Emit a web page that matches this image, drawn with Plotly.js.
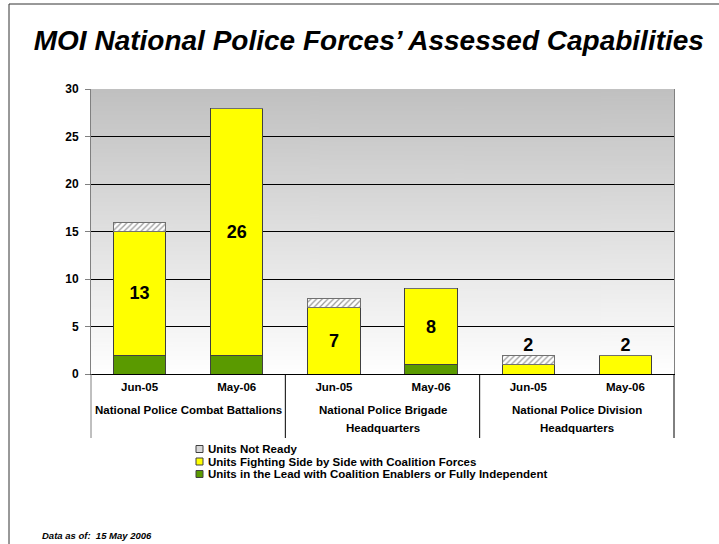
<!DOCTYPE html>
<html>
<head>
<meta charset="utf-8">
<script src="https://cdn.plot.ly/plotly-3.0.1.min.js"></script>
<style>html,body{margin:0;padding:0;background:#fff;}#chart{width:719px;height:544px;}</style>
</head>
<body>
<div id="chart"></div>
<script>
// ---- data ----
const groups = ['National Police Combat Battalions', 'National Police Brigade<br>Headquarters', 'National Police Division<br>Headquarters'];
const periods = ['Jun-05', 'May-06'];
const leadUnits = [2, 2, 0, 1, 0, 0];
const fightingUnits = [13, 26, 7, 8, 1, 2];
const notReadyUnits = [1, 0, 1, 0, 1, 0];
const insideLabels = ['13', '26', '7', '8', '', ''];
const topLabels = ['', '', '', '', '2', '2'];
const seriesNames = ['Units in the Lead with Coalition Enablers or Fully Independent', 'Units Fighting Side by Side with Coalition Forces', 'Units Not Ready'];
const seriesColors = ['#5a9a00', '#ffff00', '#ffffff'];

// ---- build ----
const xKeys = [], xTickText = [];
groups.forEach((g, gi) => periods.forEach(p => { xKeys.push(gi + '|' + p); xTickText.push(p); }));
const totals = leadUnits.map((v, i) => v + fightingUnits[i] + notReadyUnits[i]);

const FONT = 'Arial, "Liberation Sans", sans-serif';
const barLine = {color: '#404040', width: 1};
const W = 0.54;

const traces = [
  {type: 'bar', name: seriesNames[0], x: xKeys, y: leadUnits, width: W,
   marker: {color: seriesColors[0], line: barLine}, hoverinfo: 'none'},
  {type: 'bar', name: seriesNames[1], x: xKeys, y: fightingUnits, width: W,
   marker: {color: seriesColors[1], line: barLine},
   text: insideLabels, textposition: 'inside', insidetextanchor: 'middle', textangle: 0,
   constraintext: 'none',
   textfont: {family: FONT, size: 18, color: '#000', weight: 'bold'}, hoverinfo: 'none'},
  {type: 'bar', name: seriesNames[2], x: xKeys, y: notReadyUnits, width: W,
   marker: {color: seriesColors[2], line: {color: '#707070', width: 1},
            pattern: {shape: '/', fgcolor: '#999999', bgcolor: '#ffffff', size: 4, solidity: 0.3}},
   hoverinfo: 'none'},
  {type: 'scatter', mode: 'text', x: xKeys, y: totals, text: topLabels, textposition: 'top center',
   textfont: {family: FONT, size: 18, color: '#000', weight: 'bold'}, showlegend: false, hoverinfo: 'none'}
];

// plot-area geometry (pixels) for paper-coordinate helpers
const PL = 91, PR = 674, PT = 89, PB = 374;
const px = v => (v - PL) / (PR - PL);
const py = v => (PB - v) / (PB - PT);

// gradient background image for the plot area
const cv = document.createElement('canvas');
cv.width = 4; cv.height = 256;
const cx = cv.getContext('2d');
const gr = cx.createLinearGradient(0, 0, 0, 256);
gr.addColorStop(0, '#c0c0c0');
gr.addColorStop(1, '#ffffff');
cx.fillStyle = gr; cx.fillRect(0, 0, 4, 256);
const bgUrl = cv.toDataURL();

const shapes = [
  {type: 'rect', xref: 'paper', yref: 'paper', x0: px(9), x1: px(760), y0: py(600), y1: py(4),
   line: {color: '#333', width: 1}, fillcolor: 'rgba(0,0,0,0)', layer: 'below'}
];
const annotations = [];

// group dividers and group labels
const nG = groups.length;
for (let i = 0; i <= nG; i++) {
  shapes.push({type: 'line', xref: 'paper', yref: 'paper', x0: i / nG, x1: i / nG, y0: 0, y1: py(438),
               line: {color: i === 0 ? '#808080' : '#000', width: 1}});
}
groups.forEach((g, gi) => {
  g.split('<br>').forEach((line, li) => {
    annotations.push({text: '<b>' + line + '</b>', xref: 'paper', yref: 'paper',
      x: (gi + 0.5) / nG, xanchor: 'center', y: py(410 + li * 18), yanchor: 'middle', showarrow: false,
      font: {family: FONT, size: 11.5, color: '#000'}});
  });
});

// custom compact legend (top to bottom: reversed stacking order)
[2, 1, 0].forEach((si, row) => {
  const cy = 449 + row * 12.5;
  const mk = {type: 'rect', xref: 'paper', yref: 'paper', x0: px(196), x1: px(203), y0: py(cy + 3.5), y1: py(cy - 3.5),
              line: {color: '#404040', width: 1}, fillcolor: seriesColors[si]};
  if (si === 2) mk.fillcolor = '#d8d8d8';
  shapes.push(mk);
  annotations.push({text: '<b>' + seriesNames[si] + '</b>', xref: 'paper', yref: 'paper',
    x: px(206), xanchor: 'left', y: py(cy), yanchor: 'middle', showarrow: false,
    font: {family: FONT, size: 11.5, color: '#000'}});
});

annotations.push({text: '<b><i>Data as of:  15 May 2006</i></b>', xref: 'paper', yref: 'paper',
  x: px(40), xanchor: 'left', y: py(535), yanchor: 'middle', showarrow: false,
  font: {family: FONT, size: 9.5, color: '#000'}});

const layout = {
  width: 719, height: 544,
  margin: {l: PL, r: 719 - PR, t: PT, b: 544 - PB},
  paper_bgcolor: '#ffffff',
  plot_bgcolor: 'rgba(0,0,0,0)',
  barmode: 'stack',
  showlegend: false,
  font: {family: FONT, color: '#000'},
  title: {text: '<b><i>MOI National Police Forces’ Assessed Capabilities</i></b>',
          font: {family: FONT, size: 28, color: '#000'},
          xref: 'container', x: 0.513, xanchor: 'center',
          yref: 'container', y: 0.926, yanchor: 'middle'},
  xaxis: {type: 'category', tickvals: xKeys, ticktext: xTickText,
          showline: true, linecolor: '#000', linewidth: 1,
          ticks: '', ticklabelstandoff: 2,
          tickfont: {family: FONT, size: 11.5, color: '#000', weight: 'bold'},
          showgrid: false, zeroline: false, fixedrange: true},
  yaxis: {range: [0, 30], dtick: 5, showgrid: true, gridcolor: '#000', gridwidth: 1,
          showline: true, linecolor: '#808080', linewidth: 1, mirror: true,
          ticks: 'outside', ticklen: 5, tickcolor: '#808080', ticklabelstandoff: 4,
          tickfont: {family: FONT, size: 12, color: '#000', weight: 'bold'},
          zeroline: false, fixedrange: true},
  images: [{source: bgUrl, xref: 'paper', yref: 'paper', x: 0, y: 1, sizex: 1, sizey: 1,
            sizing: 'stretch', xanchor: 'left', yanchor: 'top', layer: 'below'}],
  shapes: shapes,
  annotations: annotations
};

Plotly.newPlot('chart', traces, layout, {displayModeBar: false, staticPlot: true});
</script>
</body>
</html>
